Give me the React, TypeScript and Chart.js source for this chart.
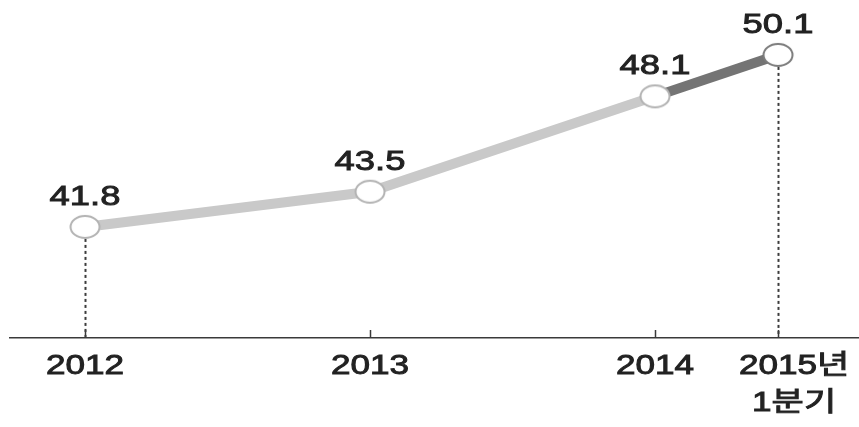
import React, { useEffect, useRef } from "react";
import { Chart, registerables } from "chart.js";

Chart.register(...registerables);

// Data
const xValues = [2012, 2013, 2014, 2014.4316];
const values = [41.8, 43.5, 48.1, 50.1];
const valueLabels = ["41.8", "43.5", "48.1", "50.1"];
const tickLabels: string[][] = [["2012"], ["2013"], ["2014"], ["2015년", "1분기"]];
const dottedIndexes = [0, 3];

const LIGHT = "#c9c9c9";
const DARK = "#747474";
const TEXT = "#222222";
const FONT = "'Liberation Sans', 'Noto Sans CJK KR', sans-serif";

function makeMarker(stroke: string) {
  const c = document.createElement("canvas");
  c.width = 34;
  c.height = 26;
  const ctx = c.getContext("2d")!;
  ctx.beginPath();
  ctx.ellipse(17, 13, 14.5, 11, 0, 0, Math.PI * 2);
  ctx.fillStyle = "#ffffff";
  ctx.fill();
  ctx.lineWidth = 2;
  ctx.strokeStyle = stroke;
  ctx.stroke();
  return c;
}

function stretchedText(ctx: CanvasRenderingContext2D, text: string, x: number, y: number, sx: number, align: "center" | "left") {
  ctx.save();
  ctx.translate(x, y);
  ctx.scale(sx, 1);
  ctx.textAlign = align;
  ctx.fillText(text, 0, 0);
  ctx.lineWidth = 0.9;
  ctx.strokeStyle = TEXT;
  ctx.strokeText(text, 0, 0);
  ctx.restore();
}

const decorPlugin = {
  id: "decor",
  beforeDatasetsDraw(chart: any) {
    const ctx = chart.ctx as CanvasRenderingContext2D;
    const xs = chart.scales.x;
    const ys = chart.scales.y;
    const axisY = chart.chartArea.bottom;
    ctx.save();
    ctx.strokeStyle = "#3a3a3a";
    ctx.lineWidth = 1.5;
    xValues.forEach((v) => {
      const px = Math.round(xs.getPixelForValue(v)) + 0.5;
      ctx.beginPath();
      ctx.moveTo(px, axisY - 8);
      ctx.lineTo(px, axisY);
      ctx.stroke();
    });
    ctx.strokeStyle = "#3c3c3c";
    ctx.lineWidth = 2;
    ctx.setLineDash([3, 3]);
    dottedIndexes.forEach((i) => {
      const px = Math.round(xs.getPixelForValue(xValues[i])) + 0.5;
      const py = ys.getPixelForValue(values[i]);
      ctx.beginPath();
      ctx.moveTo(px, py + 12);
      ctx.lineTo(px, axisY - 1);
      ctx.stroke();
    });
    ctx.restore();
  },
  afterDatasetsDraw(chart: any) {
    const ctx = chart.ctx as CanvasRenderingContext2D;
    const xs = chart.scales.x;
    const ys = chart.scales.y;
    const axisY = chart.chartArea.bottom;
    ctx.save();
    ctx.fillStyle = TEXT;
    ctx.textBaseline = "alphabetic";
    ctx.font = `28px ${FONT}`;
    values.forEach((v, i) => {
      const px = xs.getPixelForValue(xValues[i]);
      const py = ys.getPixelForValue(v);
      stretchedText(ctx, valueLabels[i], px, py - 22, 1.3, "center");
    });
    ctx.font = `27px ${FONT}`;
    const sx = 1.3;
    tickLabels.forEach((lines, i) => {
      const px = xs.getPixelForValue(xValues[i]);
      if (lines.length === 1) {
        stretchedText(ctx, lines[0], px, axisY + 36, sx, "center");
      } else {
        const digits = lines[0].replace(/[^0-9]/g, "");
        const dw = ctx.measureText(digits).width * sx;
        const fw = ctx.measureText(lines[0]).width * sx;
        const left = px - dw / 2;
        stretchedText(ctx, lines[0], left, axisY + 36, sx, "left");
        stretchedText(ctx, lines[1], left + fw / 2, axisY + 73, sx, "center");
      }
    });
    ctx.restore();
  },
};

export default function App() {
  const ref = useRef<HTMLCanvasElement>(null);
  useEffect(() => {
    document.body.style.margin = "0";
    const markers = [makeMarker("#b3b3b3"), makeMarker("#7c7c7c")];
    const chart = new Chart(ref.current!, {
      type: "line",
      data: {
        datasets: [
          {
            data: xValues.map((x, i) => ({ x, y: values[i] })),
            borderColor: LIGHT,
            borderWidth: 10,
            borderJoinStyle: "round",
            segment: {
              borderColor: (c: any) => (c.p1DataIndex === 3 ? DARK : LIGHT),
            },
            pointStyle: (c: any) => markers[c.dataIndex === 3 ? 1 : 0],
            pointRadius: 12,
            pointHoverRadius: 12,
            clip: false,
            tension: 0,
          } as any,
        ],
      },
      options: {
        responsive: false,
        animation: false,
        devicePixelRatio: 1,
        layout: { autoPadding: false, padding: { left: 10, right: 0, top: 0, bottom: 0 } },
        plugins: { legend: { display: false }, tooltip: { enabled: false } },
        scales: {
          x: {
            type: "linear",
            min: 2011.7368,
            max: 2014.7158,
            grid: { display: false },
            border: { display: true, color: "#3a3a3a", width: 1.5 },
            ticks: { display: false },
            afterFit: (s: any) => {
              s.height = 89;
            },
          },
          y: {
            display: false,
            min: 36.44,
            max: 52.75,
          },
        },
      },
      plugins: [decorPlugin],
    } as any);
    return () => chart.destroy();
  }, []);
  return (
    <div style={{ width: 859, height: 427, overflow: "hidden", background: "#fff" }}>
      <canvas ref={ref} width={859} height={427} style={{ display: "block" }} />
    </div>
  );
}
